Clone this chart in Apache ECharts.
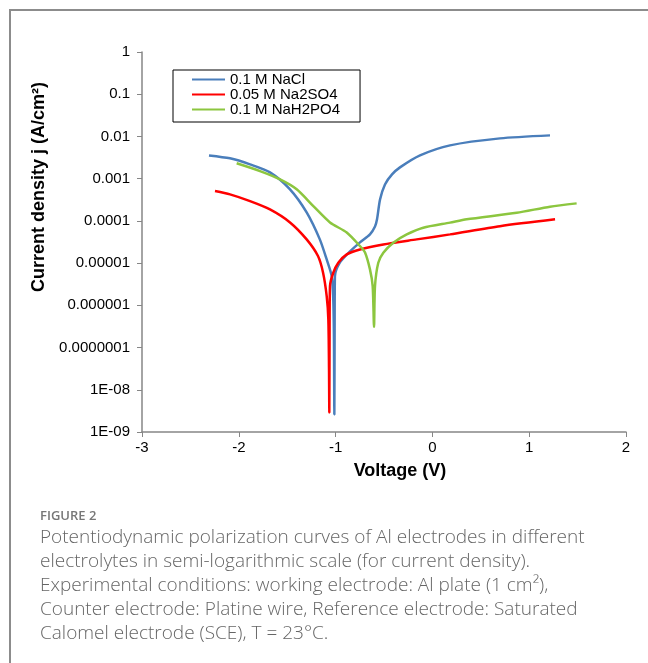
<!DOCTYPE html>
<html>
<head>
<meta charset="utf-8">
<script src="https://cdn.jsdelivr.net/npm/echarts@6/dist/echarts.min.js"></script>
<style>
  html, body { margin: 0; padding: 0; background: #fff; }
  #chart { width: 648px; height: 663px; }
</style>
</head>
<body>
<div id="chart"></div>
<script>
// tick labels of the log axis, from 1E-09 up to 1
const yTickLabels = ['1E-09', '1E-08', '0.0000001', '0.000001', '0.00001', '0.0001', '0.001', '0.01', '0.1', '1']
const seriesNames = ['0.1 M NaCl', '0.05 M Na2SO4', '0.1 M NaH2PO4']

// 0.1 M NaCl
const naclV = [-2.308, -2.091, -1.884, -1.678, -1.471, -1.299, -1.163, -1.092, -1.040, -1.024, -1.017, -1.013,
  -1.010, -1.007, -0.955, -0.851, -0.748, -0.645, -0.593, -0.572, -0.541, -0.490, -0.417, -0.335, -0.128, 0.182, 0.698, 1.215]
const naclJ = [3.56e-3, 3.03e-3, 2.18e-3, 1.41e-3, 5.6e-4, 1.59e-4, 3.65e-5, 1.22e-5, 4.9e-6, 1.38e-6, 1.56e-7, 2.6e-9,
  2.7e-7, 4.9e-6, 1.04e-5, 1.89e-5, 3.1e-5, 4.8e-5, 7.4e-5, 1.09e-4, 3.2e-4, 7.3e-4, 1.26e-3, 1.85e-3, 3.56e-3, 6.15e-3, 9.0e-3, 1.06e-2]

// 0.05 M Na2SO4
const sulfV = [-2.246, -2.091, -1.884, -1.678, -1.471, -1.299, -1.182, -1.130, -1.092, -1.075, -1.068, -1.065,
  -1.062, -1.058, -1.024, -0.972, -0.885, -0.748, -0.507, -0.162, 0.182, 0.698, 1.267]
const sulfJ = [5.08e-4, 4.25e-4, 2.94e-4, 1.87e-4, 9.2e-5, 3.64e-5, 1.47e-5, 6.0e-6, 1.65e-6, 4.6e-7, 3.0e-8, 2.9e-9,
  2.7e-7, 2.85e-6, 5.9e-6, 1.02e-5, 1.61e-5, 2.11e-5, 2.77e-5, 3.65e-5, 4.79e-5, 7.5e-5, 1.09e-4]

// 0.1 M NaH2PO4
const phosV = [-2.022, -1.781, -1.574, -1.402, -1.230, -1.058, -0.885, -0.748, -0.696, -0.645, -0.617, -0.603,
  -0.593, -0.559, -0.507, -0.404, -0.265, -0.094, 0.182, 0.354, 0.871, 1.215, 1.490]
const phosJ = [2.31e-3, 1.51e-3, 9.6e-4, 5.6e-4, 2.24e-4, 9.2e-5, 5.3e-5, 2.53e-5, 1.79e-5, 7.1e-6, 2.85e-6, 3.1e-7,
  2.85e-6, 1.02e-5, 1.76e-5, 3.04e-5, 4.79e-5, 6.9e-5, 9.1e-5, 1.09e-4, 1.56e-4, 2.17e-4, 2.6e-4]

const captionLines = [
  'Potentiodynamic polarization curves of Al electrodes in different',
  'electrolytes in semi-logarithmic scale (for current density).',
  'Experimental conditions: working electrode: Al plate (1 cm²),',
  'Counter electrode: Platine wire, Reference electrode: Saturated',
  'Calomel electrode (SCE), T = 23°C.'
]

const zip = (xs, ys) => xs.map((x, i) => [x, ys[i]])

const myChart = echarts.init(document.getElementById('chart'))

const makeSeries = (name, data, color) => ({
  name: name,
  type: 'line',
  data: data,
  showSymbol: false,
  symbol: 'none',
  smooth: 0.25,
  lineStyle: { color: color, width: 2.5 },
  itemStyle: { color: color },
  animation: false
})

const captionGraphics = captionLines.map((line, i) => ({
  type: 'text',
  left: 40,
  top: 528 + i * 24,
  style: {
    text: line,
    font: '300 19px "Open Sans", sans-serif',
    fill: '#666'
  }
}))

myChart.setOption({
  animation: false,
  grid: {
    left: 142,
    top: 52,
    width: 484,
    height: 380,
    containLabel: false
  },
  legend: {
    orient: 'vertical',
    left: 173,
    top: 70,
    padding: [2, 20, 5, 19],
    itemGap: 0,
    itemWidth: 33,
    itemHeight: 2,
    icon: 'rect',
    borderColor: '#000',
    borderWidth: 1,
    data: seriesNames,
    textStyle: {
      fontFamily: 'Liberation Sans, Arial, sans-serif',
      fontSize: 15,
      lineHeight: 15,
      color: '#000'
    }
  },
  xAxis: {
    type: 'value',
    min: -3,
    max: 2,
    interval: 1,
    name: 'Voltage (V)',
    nameLocation: 'middle',
    nameGap: 30,
    nameTextStyle: {
      fontFamily: 'Liberation Sans, Arial, sans-serif',
      fontSize: 18,
      fontWeight: 'bold',
      color: '#000',
      padding: [0, 0, 0, 32]
    },
    axisLine: { onZero: false, lineStyle: { color: '#868686', width: 1.5 } },
    axisTick: { show: true, inside: false, length: 5, lineStyle: { color: '#868686' } },
    axisLabel: {
      margin: 8,
      fontFamily: 'Liberation Sans, Arial, sans-serif',
      fontSize: 15,
      color: '#000'
    },
    splitLine: { show: false }
  },
  yAxis: {
    type: 'log',
    logBase: 10,
    min: 1e-9,
    max: 1,
    name: 'Current density j (A/cm²)',
    nameLocation: 'middle',
    nameRotate: 90,
    nameGap: 84,
    nameTextStyle: {
      fontFamily: 'Liberation Sans, Arial, sans-serif',
      fontSize: 18,
      fontWeight: 'bold',
      color: '#000',
      padding: [0, 0, 0, 110]
    },
    axisLine: { show: true, onZero: false, lineStyle: { color: '#868686', width: 1.5 } },
    axisTick: { show: true, inside: false, length: 5, lineStyle: { color: '#868686' } },
    axisLabel: {
      margin: 12,
      fontFamily: 'Liberation Sans, Arial, sans-serif',
      fontSize: 15,
      color: '#000',
      formatter: function (v) {
        const k = Math.round(Math.log10(v)) + 9
        return yTickLabels[k] || ''
      }
    },
    splitLine: { show: false },
    minorTick: { show: false }
  },
  series: [
    makeSeries(seriesNames[0], zip(naclV, naclJ), '#4a7ebb'),
    makeSeries(seriesNames[1], zip(sulfV, sulfJ), '#ff0000'),
    makeSeries(seriesNames[2], zip(phosV, phosJ), '#8cc63f')
  ],
  graphic: [
    {
      type: 'polyline',
      shape: { points: [[10, 663], [10, 10], [648, 10]] },
      style: { stroke: '#8c8c8c', lineWidth: 2, fill: null }
    },
    {
      type: 'text',
      left: 40,
      top: 510,
      style: {
        text: 'FIGURE 2',
        font: '600 13px "Open Sans", sans-serif',
        fill: '#777'
      }
    }
  ].concat(captionGraphics)
})
</script>
</body>
</html>
